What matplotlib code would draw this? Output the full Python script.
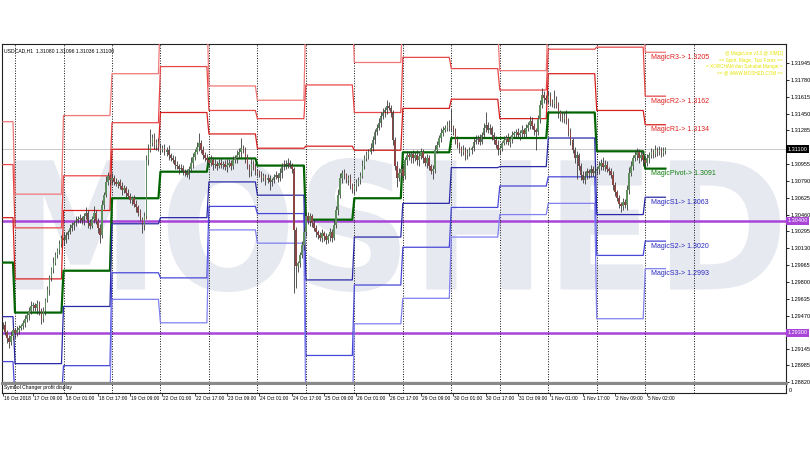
import matplotlib
matplotlib.use('Agg')
import matplotlib.pyplot as plt
import numpy as np
from matplotlib.textpath import TextPath
from matplotlib.patches import PathPatch
from matplotlib.font_manager import FontProperties
from matplotlib.transforms import Affine2D, blended_transform_factory

plt.rcParams['font.family'] = ['Liberation Sans', 'DejaVu Sans']

# ---- data ----
symbol_info = 'USDCAD,H1  1.31080 1.31096 1.31036 1.31100'
base_price = 1.3000          # candle values below are pips above this

close_pips = [
    -62, -69, -75, -79, -73, -67, -70, -67, -65, -63, -60, -56, -52, -48, -44, -43, -46, -42, -48, -56,
    -48, -38, -28, -16, -7, -1, 6, 11, 17, 23, 21, 26, 29, 33, 36, 38, 40, 42, 43, 40,
    45, 48, 38, 35, 42, 48, 40, 33, 26, 55, 65, 78, 84, 80, 82, 78, 76, 78, 74, 70,
    72, 67, 64, 60, 62, 56, 53, 48, 42, 36, 45, 99, 109, 116, 121, 114, 117, 111, 109, 111,
    107, 109, 104, 101, 99, 95, 94, 91, 92, 89, 87, 85, 91, 97, 102, 107, 112, 116, 109, 104,
    101, 99, 97, 99, 95, 96, 94, 97, 95, 96, 93, 95, 97, 94, 99, 101, 104, 107, 111, 109,
    101, 94, 89, 96, 93, 89, 87, 85, 82, 84, 80, 82, 78, 80, 83, 85, 82, 87, 93, 96,
    95, 97, 94, 91, 31, -4, -1, 6, 16, 29, 45, 40, 45, 38, 33, 29, 26, 23, 28, 25,
    21, 25, 29, 23, 36, 50, 65, 82, 87, 85, 80, 82, 75, 70, 74, 77, 80, 84, 94, 101,
    104, 107, 111, 119, 127, 131, 136, 143, 146, 148, 152, 150, 146, 119, 94, 82, 87, 91, 84, 99,
    104, 102, 105, 101, 104, 99, 103, 107, 101, 97, 101, 94, 89, 91, 109, 114, 121, 126, 129, 131,
    134, 132, 131, 129, 119, 114, 111, 107, 109, 104, 106, 109, 111, 117, 119, 121, 117, 124, 131, 134,
    129, 131, 124, 119, 114, 109, 111, 116, 119, 121, 117, 120, 124, 126, 127, 124, 126, 129, 125, 131,
    134, 138, 133, 129, 127, 140, 153, 163, 160, 158, 162, 156, 154, 158, 153, 146, 142, 140, 143, 138,
    127, 119, 109, 101, 104, 94, 85, 80, 84, 89, 87, 91, 87, 89, 91, 94, 97, 93, 95, 91,
    89, 85, 75, 68, 62, 56, 54, 58, 55, 70, 87, 94, 101, 104, 107, 101, 104, 99, 97, 101,
    104, 107, 105, 109, 107, 109, 106, 108, 110,
]
upper_wick_pips = [
    3, 4, 2, 3, 5, 3, 2, 4, 3, 2, 3, 4, 2, 3, 5, 3, 2, 4, 3, 2,
    3, 2, 4, 3, 2, 5, 3, 2, 4, 3, 6, 3, 2, 4, 3, 2, 5, 3, 4, 2,
    3, 5, 2, 4, 3, 6, 2, 3, 4, 5, 3, 6, 4, 2, 5, 3, 4, 2, 3, 4,
    3, 2, 4, 3, 2, 3, 4, 2, 3, 2, 4, 5, 6, 14, 4, 5, 3, 4, 5, 3,
    4, 3, 5, 2, 3, 4, 3, 2, 4, 3, 2, 4, 3, 5, 4, 3, 5, 10, 3, 4,
    3, 4, 2, 5, 3, 4, 2, 3, 4, 2, 3, 5, 3, 2, 4, 3, 5, 4, 10, 3,
    3, 4, 2, 5, 3, 4, 2, 3, 4, 3, 2, 4, 3, 2, 3, 4, 2, 5, 4, 3,
    3, 4, 2, 3, 2, 3, 2, 3, 4, 5, 3, 4, 3, 2, 4, 3, 2, 3, 4, 2,
    3, 2, 4, 3, 5, 4, 6, 5, 3, 4, 2, 3, 4, 2, 3, 4, 3, 4, 5, 3,
    4, 3, 5, 4, 3, 4, 5, 3, 4, 3, 6, 4, 3, 2, 3, 4, 5, 3, 4, 3,
    4, 3, 2, 4, 3, 5, 3, 4, 3, 2, 4, 3, 2, 4, 5, 4, 3, 5, 4, 3,
    4, 5, 17, 3, 2, 4, 3, 2, 5, 3, 4, 3, 2, 4, 5, 3, 4, 3, 5, 12,
    3, 4, 2, 3, 4, 5, 3, 2, 4, 3, 5, 3, 4, 2, 3, 4, 3, 5, 2, 4,
    3, 5, 4, 3, 2, 4, 5, 7, 4, 3, 5, 4, 3, 10, 4, 3, 2, 4, 3, 5,
    3, 4, 2, 3, 4, 2, 3, 4, 5, 3, 2, 4, 3, 5, 2, 4, 3, 5, 4, 3,
    2, 3, 4, 3, 2, 3, 2, 4, 3, 5, 6, 4, 3, 5, 4, 3, 4, 3, 5, 4,
    3, 4, 3, 5, 3, 4, 3, 4, 2,
]
lower_wick_pips = [
    4, 3, 5, 6, 3, 4, 5, 3, 4, 2, 3, 4, 3, 5, 3, 4, 2, 5, 4, 5,
    3, 4, 2, 5, 3, 4, 2, 3, 4, 3, 5, 3, 4, 2, 3, 5, 3, 2, 4, 3,
    4, 3, 5, 3, 2, 4, 3, 5, 8, 3, 4, 2, 3, 5, 4, 3, 2, 4, 3, 5,
    3, 4, 2, 3, 5, 3, 4, 3, 2, 8, 5, 3, 4, 2, 3, 4, 5, 3, 4, 2,
    3, 4, 5, 3, 2, 4, 3, 5, 3, 4, 3, 2, 4, 3, 5, 3, 2, 4, 3, 4,
    3, 2, 4, 3, 5, 3, 4, 2, 3, 4, 3, 5, 2, 4, 3, 2, 4, 3, 5, 3,
    4, 3, 6, 5, 3, 4, 3, 2, 4, 3, 5, 3, 8, 4, 3, 2, 4, 3, 5, 3,
    4, 3, 2, 4, 62, 22, 6, 4, 3, 5, 4, 3, 5, 4, 3, 5, 4, 3, 4, 5,
    4, 3, 5, 4, 2, 3, 4, 3, 5, 4, 3, 5, 4, 3, 4, 5, 3, 4, 2, 3,
    3, 4, 2, 3, 4, 3, 2, 4, 3, 4, 3, 2, 4, 5, 4, 9, 3, 4, 5, 3,
    4, 3, 5, 4, 3, 4, 5, 3, 4, 3, 5, 4, 3, 8, 4, 3, 2, 4, 3, 2,
    3, 4, 3, 5, 4, 3, 5, 4, 3, 5, 4, 3, 4, 3, 2, 4, 3, 2, 3, 4,
    3, 4, 5, 4, 3, 5, 4, 3, 2, 4, 3, 5, 4, 3, 4, 3, 5, 4, 3, 4,
    3, 4, 3, 5, 18, 3, 4, 3, 5, 4, 3, 4, 3, 4, 3, 5, 4, 3, 4, 3,
    4, 5, 3, 4, 20, 4, 5, 3, 4, 3, 5, 4, 3, 4, 3, 5, 4, 3, 4, 3,
    4, 3, 5, 4, 3, 4, 5, 4, 3, 5, 4, 3, 4, 3, 5, 4, 3, 5, 4, 3,
    4, 3, 4, 3, 4, 3, 4, 3, 3,
]

# daily pivot levels, one value per trading day
day_first_bar = [0, 6, 30, 54, 78, 102, 126, 150, 174, 198, 222, 246, 270, 294, 318]
last_bar = 328
r3 = [1.3137, 1.3066, 1.3143, 1.3184, 1.3248, 1.3172, 1.3158, 1.3245, 1.3195, 1.3244, 1.3227, 1.3187, 1.3246, 1.3249, 1.3205]
r2 = [1.3095, 1.3033, 1.3084, 1.3136, 1.3191, 1.3148, 1.3140, 1.3173, 1.3146, 1.3200, 1.3189, 1.3168, 1.3208, 1.3210, 1.3162]
r1 = [1.3043, 1.2983, 1.3050, 1.3110, 1.3146, 1.3125, 1.3111, 1.3113, 1.3109, 1.3150, 1.3159, 1.3140, 1.3184, 1.3148, 1.3134]
pivot = [1.2999, 1.2950, 1.2991, 1.3062, 1.3088, 1.3101, 1.3094, 1.3041, 1.3062, 1.3107, 1.3121, 1.3121, 1.3146, 1.3108, 1.3091]
s1 = [1.2946, 1.2900, 1.2956, 1.3037, 1.3043, 1.3078, 1.3065, 1.2982, 1.3024, 1.3057, 1.3092, 1.3093, 1.3121, 1.3046, 1.3063]
s2 = [1.2902, 1.2866, 1.2898, 1.2989, 1.2984, 1.3054, 1.3047, 1.2908, 1.2977, 1.3014, 1.3053, 1.3074, 1.3083, 1.3006, 1.3020]
s3 = [1.2849, 1.2816, 1.2863, 1.2963, 1.2940, 1.3031, 1.3018, 1.2849, 1.2939, 1.2964, 1.3024, 1.3046, 1.3057, 1.2944, 1.2993]
level_names = ['MagicR3', 'MagicR2', 'MagicR1', 'MagicPivot', 'MagicS1', 'MagicS2', 'MagicS3']

separator_bars = [6, 30, 54, 78, 102, 126, 150, 174, 198, 222, 246, 270, 294, 318, 342]
date_bars = [0, 15, 31, 47, 63, 79, 95, 111, 127, 143, 159, 175, 191, 207, 223, 239, 255, 271, 287, 303, 319]
date_labels = ['16 Oct 2018', '17 Oct 09:00', '18 Oct 01:00', '18 Oct 17:00', '19 Oct 09:00',
               '22 Oct 01:00', '22 Oct 17:00', '23 Oct 09:00', '24 Oct 01:00', '24 Oct 17:00',
               '25 Oct 09:00', '26 Oct 01:00', '26 Oct 17:00', '29 Oct 09:00', '30 Oct 01:00',
               '30 Oct 17:00', '31 Oct 09:00', '1 Nov 01:00', '1 Nov 17:00', '2 Nov 09:00', '5 Nov 02:00']
price_ticks = [1.31945, 1.31780, 1.31615, 1.31450, 1.31285, 1.30955, 1.30790, 1.30625, 1.30460,
               1.30295, 1.30130, 1.29965, 1.29800, 1.29635, 1.29470, 1.29145, 1.28985, 1.28820]
last_price = 1.31100
round_levels = [1.30400, 1.29300]
credit_lines = ['@ MagicLine v3.0 @ XIM[1]', '== Spirit, Magic, Tips Forex ==',
                '= XORCHAM dan Sahabat Mangat =', '== @ WWW.MOSHED.COM ==']

# ---- figure ----
fig = plt.figure(figsize=(8.1, 4.5), dpi=100)
L, R = 2 / 810, 786 / 810
ax = fig.add_axes([L, 1 - 382 / 450, R - L, 338 / 450])
ax2 = fig.add_axes([L, 1 - 393 / 450, R - L, 10 / 450])
xlim = (-0.45, 387.7)
ylim = (1.28820, 1.32131)
for a in (ax, ax2):
    a.set_xlim(*xlim)
    for sp in a.spines.values():
        sp.set_linewidth(0.8)
        sp.set_color('#222222')
ax.set_ylim(*ylim)

# watermark
wm = TextPath((0, 0), 'MOSHED', size=1, prop=FontProperties(family='DejaVu Sans', weight='bold'))
bb = wm.get_extents()
x0, x1 = 13 / 784, 778 / 784
yb, yt = (382 - 292) / 338, (382 - 158) / 338
tr = Affine2D().translate(-bb.x0, -bb.y0).scale((x1 - x0) / bb.width, (yt - yb) / bb.height).translate(x0, yb)
ax.add_patch(PathPatch(wm, transform=tr + ax.transAxes, facecolor='#e7e9f0', edgecolor='none', zorder=0))

# horizontal lines
ax.axhline(last_price, color='#c8c8c8', lw=0.7, zorder=1)
for lv in round_levels:
    ax.axhline(lv, color='#a845d8', lw=1.8, zorder=2)

# day separators
for sb in separator_bars:
    for a in (ax, ax2):
        a.axvline(sb, color='#111111', lw=0.7, ls=(0, (1, 1.6)), zorder=3)

# pivot levels
lengths = np.diff(day_first_bar + [last_bar + 1])
bars_lv = np.arange(last_bar + 1)
level_series = [r3, r2, r1, pivot, s1, s2, s3]
level_colors = ['#f07878', '#e84848', '#d82020', '#006400', '#2a2aa8', '#4848d8', '#8080f0']
level_widths = [0.9, 0.9, 0.9, 1.6, 0.9, 0.9, 0.9]
label_colors = ['#e02020', '#e02020', '#e02020', '#108010', '#2828c0', '#2828c0', '#2828c0']
for vals, col, lw_, name, lcol in zip(level_series, level_colors, level_widths, level_names, label_colors):
    ax.plot(bars_lv, np.repeat(vals, lengths), color=col, lw=lw_, zorder=4)
    ax.annotate('%s-> %.4f' % (name, vals[-1]), xy=(320.8, vals[-1]), xytext=(0, -1.2),
                textcoords='offset points', ha='left', va='top', fontsize=5, color=lcol, zorder=6)

# candles
c = base_price + np.array(close_pips) / 1e4
o = np.concatenate([[c[0]], c[:-1]])
hi = np.maximum(o, c) + np.array(upper_wick_pips) / 1e4
lo = np.minimum(o, c) - np.array(lower_wick_pips) / 1e4
bx = np.arange(len(c))
ax.vlines(bx, lo, hi, color='#3a3a3a', lw=0.6, zorder=5)
up = c >= o
body_h = np.maximum(np.abs(c - o), 0.00003)
ax.bar(bx[up], body_h[up], bottom=np.minimum(o, c)[up], width=0.75, color='#5f8f5f', zorder=5.5, linewidth=0)
ax.bar(bx[~up], body_h[~up], bottom=np.minimum(o, c)[~up], width=0.75, color='#8a4545', zorder=5.5, linewidth=0)

# price axis on the right
ax.yaxis.tick_right()
ax.set_yticks(price_ticks)
ax.set_yticklabels(['%.5f' % t for t in price_ticks])
ax.tick_params(axis='y', labelsize=4, length=2, pad=1.5, width=0.6)
ax.set_xticks([])
ytrans = blended_transform_factory(ax.transAxes, ax.transData)
ax.text(1.002, last_price, '%.5f' % last_price, transform=ytrans, fontsize=4, color='white',
        va='center', ha='left', bbox=dict(boxstyle='square,pad=0.25', fc='black', ec='none'), zorder=7)
for lv in round_levels:
    ax.text(1.002, lv, '%.5f' % lv, transform=ytrans, fontsize=4, color='white', va='center', ha='left',
            bbox=dict(boxstyle='square,pad=0.25', fc='#a845d8', ec='none'), zorder=7)

ax.text(0.003, 0.988, symbol_info, transform=ax.transAxes, fontsize=3.7, va='top', ha='left', zorder=7)
ax.text(0.996, 0.978, '\n'.join(credit_lines), transform=ax.transAxes, fontsize=3.3, va='top', ha='right',
        color='#e4e400', linespacing=1.3, zorder=7)

# indicator sub-window and time axis
ax2.spines['top'].set_linewidth(2.2)
ax2.spines['top'].set_color('#8a8a8a')
ax2.set_yticks([])
ax2.set_xticks(date_bars)
ax2.set_xticklabels([])
ax2.tick_params(axis='x', length=2, width=0.5, direction='out')
ax2.text(0.003, 0.5, 'Symbol Changer profit display', transform=ax2.transAxes, fontsize=3.6,
         va='center', ha='left')
ax2.text(1.004, 0.3, '0', transform=ax2.transAxes, fontsize=4, va='center', ha='left')
xtrans = blended_transform_factory(ax2.transData, ax2.transAxes)
for b, lab in zip(date_bars, date_labels):
    ax2.text(b + 0.4, -0.55, lab, transform=xtrans, fontsize=3.5, va='center', ha='left')

fig.savefig('out.png', dpi=100, facecolor='white')
